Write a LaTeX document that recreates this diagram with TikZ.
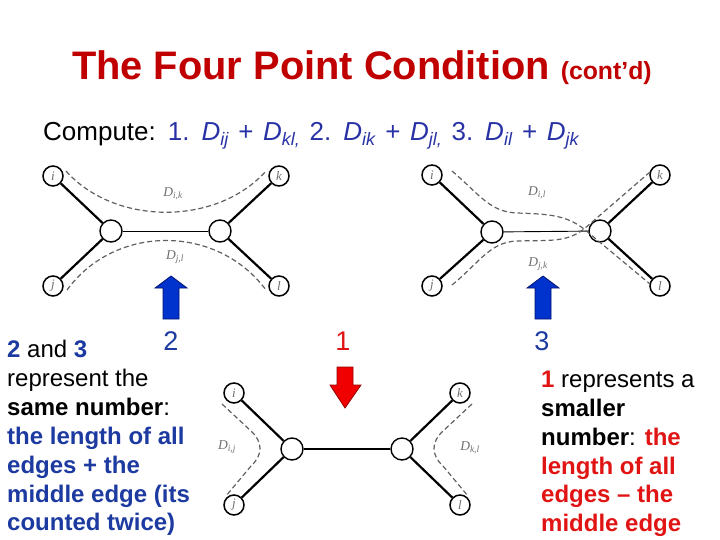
\documentclass[tikz,border=0pt]{standalone}
\usepackage{fontspec}
\setmainfont{Liberation Sans}
\newfontfamily\serifD{Liberation Serif}
\definecolor{titlered}{RGB}{192,0,0}
\definecolor{txtblue}{RGB}{28,58,160}
\definecolor{cmpblue}{RGB}{40,50,165}
\definecolor{txtred}{RGB}{225,20,20}
\definecolor{arrblue}{RGB}{0,50,205}
\definecolor{arrblueline}{RGB}{0,20,110}
\definecolor{arrred}{RGB}{240,0,0}
\definecolor{arrredline}{RGB}{150,0,0}
\definecolor{dgray}{RGB}{95,95,95}
\definecolor{lgray}{RGB}{110,110,110}
\tikzset{
  leaf/.style={circle,draw=black,line width=1.5pt,fill=white,minimum size=20pt,inner sep=0pt,
    font=\serifD\itshape\fontsize{13}{13}\selectfont,text=lgray},
  inner/.style={circle,draw=black,line width=1.4pt,fill=white,minimum size=22pt,inner sep=0pt},
  edge/.style={line width=2.2pt,black},
  midedge/.style={line width=0.9pt,black},
  dashline/.style={dgray,line width=1.2pt,dash pattern=on 5pt off 3pt},
  dlabel/.style={text=lgray,font=\serifD\itshape\fontsize{13.5}{13.5}\selectfont,inner sep=0pt},
  txt/.style={anchor=base west,inner sep=0pt,font=\fontsize{24}{29}\selectfont},
  digit/.style={anchor=base,inner sep=0pt,font=\fontsize{27}{27}\selectfont},
  arrowblue/.style={fill=arrblue,draw=arrblueline,line width=0.8pt},
  arrowred/.style={fill=arrred,draw=arrredline,line width=0.8pt}
}
\newcommand{\cmpsub}[1]{{\fontsize{18}{18}\selectfont\raisebox{-5pt}{\textit{#1}}}}
\newcommand{\Dsub}[1]{\textit{D}\cmpsub{#1}}
\newcommand{\dl}[1]{D\textsubscript{#1}}
\begin{document}
\begin{tikzpicture}[x=1pt,y=-1pt]
\useasboundingbox (0,0) rectangle (720,540);
% title
\node[anchor=base west,inner sep=0pt,text=titlered,font=\bfseries\fontsize{39.8}{40}\selectfont] (title) at (72,80)
  {The Four Point Condition {\fontsize{24.8}{24}\selectfont (cont’d)}};
% compute line
\node[anchor=base west,inner sep=0pt,font=\fontsize{26}{30}\selectfont] (compute) at (43,141)
  {\spaceskip=9.6pt plus 1pt\relax Compute: \textcolor{cmpblue}{1. \Dsub{ij} + \Dsub{kl,} 2. \Dsub{ik} + \Dsub{jl,} 3. \Dsub{il} + \Dsub{jk}}};

% ---------- tree 1 ----------
\node[leaf] (i1) at (53,176) {i};
\node[leaf] (k1) at (279,176) {k};
\node[leaf] (j1) at (53,286) {j};
\node[leaf] (l1) at (279,286) {l};
\node[inner] (L1) at (111,231) {};
\node[inner] (R1) at (220,231) {};
\draw[edge] (i1) -- (L1);
\draw[edge] (j1) -- (L1);
\draw[edge] (k1) -- (R1);
\draw[edge] (l1) -- (R1);
\draw[midedge] (L1) -- (R1);
\coordinate (a1) at (66,171);
\coordinate (b1) at (266,171);
\coordinate (c1) at (67,290);
\coordinate (d1) at (266,290);
\draw[dashline] (a1) .. controls (115,226) and (217,226) .. (b1);
\draw[dashline] (c1) .. controls (115,224) and (217,224) .. (d1);
\node[dlabel] (D1a) at (173,194) {\dl{i,k}};
\node[dlabel] (D1b) at (175,257) {\dl{j,l}};

% ---------- tree 2 ----------
\node[leaf] (i2) at (432,175) {i};
\node[leaf] (k2) at (660,175) {k};
\node[leaf] (j2) at (432,286) {j};
\node[leaf] (l2) at (660,286) {l};
\node[inner] (L2) at (492,232) {};
\node[inner] (R2) at (600,231) {};
\draw[edge] (i2) -- (L2);
\draw[edge] (j2) -- (L2);
\draw[edge] (k2) -- (R2);
\draw[edge] (l2) -- (R2);
\draw[midedge] (L2) -- (R2);
\coordinate (a2) at (452,171);
\coordinate (b2) at (650,284);
\coordinate (c2) at (452,285);
\coordinate (d2) at (650,172);
\coordinate (x2) at (584,229);
\draw[dashline] (a2) .. controls (480,195) and (490,212) .. (517,213) .. controls (548,214) and (566,215) .. (x2) -- (b2);
\draw[dashline] (c2) .. controls (480,262) and (490,242) .. (517,241) .. controls (548,240) and (566,243) .. (x2) -- (d2);
\node[dlabel] (D2a) at (537,193) {\dl{i,l}};
\node[dlabel] (D2b) at (538,264) {\dl{j,k}};

% ---------- tree 3 ----------
\node[leaf] (i3) at (234,393) {i};
\node[leaf] (k3) at (460,393) {k};
\node[leaf] (j3) at (234,505) {j};
\node[leaf] (l3) at (460,505) {l};
\node[inner] (L3) at (292,449) {};
\node[inner] (R3) at (402,449) {};
\draw[edge] (i3) -- (L3);
\draw[edge] (j3) -- (L3);
\draw[edge] (k3) -- (R3);
\draw[edge] (l3) -- (R3);
\draw[edge] (L3) -- (R3);
\coordinate (a3) at (222,404);
\coordinate (b3) at (226,496);
\coordinate (c3) at (472,404);
\coordinate (d3) at (468,496);
\draw[dashline] (a3) -- (251,431) .. controls (263,442) and (263,455) .. (251,466) -- (b3);
\draw[dashline] (c3) -- (443,431) .. controls (431,442) and (431,455) .. (443,466) -- (d3);
\node[dlabel] (D3a) at (227,447) {\dl{i,j}};
\node[dlabel] (D3b) at (470,448) {\dl{k,l}};

% ---------- arrows ----------
\draw[arrowblue] (171,276) -- (187,288) -- (179,288) -- (179,319) -- (163,319) -- (163,288) -- (155,288) -- cycle;
\draw[arrowblue] (543,276) -- (559,288) -- (551,288) -- (551,319) -- (535,319) -- (535,288) -- (527,288) -- cycle;
\draw[arrowred] (337,367) -- (353,367) -- (353,385) -- (361,385) -- (345,408) -- (330,385) -- (337,385) -- cycle;

% ---------- digits ----------
\node[digit,text=txtblue] (n2) at (171,350) {2};
\node[digit,text=txtred] (n1) at (343,350) {1};
\node[digit,text=txtblue] (n3) at (542,350) {3};

% ---------- left text ----------
\node[txt] (l1t) at (7,357) {\textcolor{txtblue}{\bfseries 2} and \textcolor{txtblue}{\bfseries 3}};
\node[txt] (l2t) at (7,386) {represent the};
\node[txt] (l3t) at (7,415) {\bfseries same number\mdseries :};
\node[txt,text=txtblue] (l4t) at (7,444) {\bfseries the length of all};
\node[txt,text=txtblue] (l5t) at (7,473) {\bfseries edges + the};
\node[txt,text=txtblue] (l6t) at (7,502) {\bfseries middle edge (its};
\node[txt,text=txtblue] (l7t) at (7,530) {\bfseries counted twice)};

% ---------- right text ----------
\node[txt] (r1t) at (541,387) {\textcolor{txtred}{\bfseries 1} represents a};
\node[txt] (r2t) at (541,416) {\bfseries smaller};
\node[txt] (r3t) at (541,445) {\bfseries number\mdseries : \textcolor{txtred}{\bfseries the}};
\node[txt,text=txtred] (r4t) at (541,474) {\bfseries length of all};
\node[txt,text=txtred] (r5t) at (541,502) {\bfseries edges – the};
\node[txt,text=txtred] (r6t) at (541,531) {\bfseries middle edge};
\end{tikzpicture}
\end{document}
